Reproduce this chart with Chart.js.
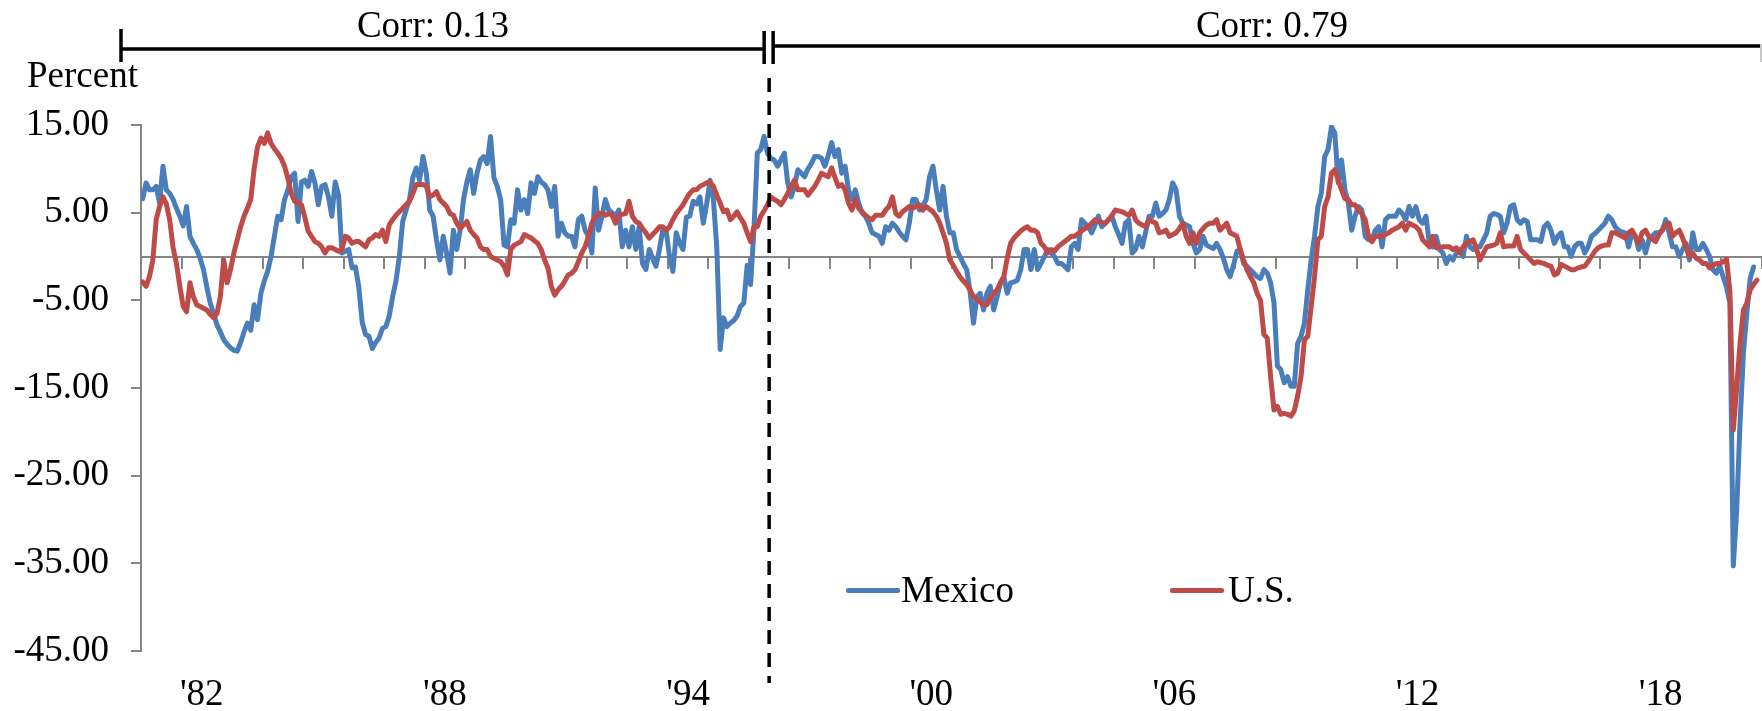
<!DOCTYPE html>
<html>
<head>
<meta charset="utf-8">
<script src="https://cdn.jsdelivr.net/npm/chart.js@4.4.1/dist/chart.umd.min.js"></script>
<style>
html,body{margin:0;padding:0;background:#fff;}
#wrap{position:relative;width:1762px;height:711px;overflow:hidden;background:#fff;}
#c{position:absolute;left:0;top:0;}
.t{position:absolute;font-family:"Liberation Serif","Times New Roman",serif;font-size:37px;line-height:37px;color:#000;white-space:nowrap;}
.sw{position:absolute;height:5px;border-radius:2px;}
</style>
</head>
<body>
<div id="wrap">
  <canvas id="c" width="1762" height="711"></canvas>
  <div class="t" id="ytitle" style="left:27px;top:56px;"></div>
  <div class="t" id="corr1" style="left:433px;top:6px;transform:translateX(-50%);"></div>
  <div class="t" id="corr2" style="left:1272px;top:6px;transform:translateX(-50%);"></div>
  <div class="sw" id="sw0" style="left:846px;top:588px;width:54px;"></div>
  <div class="t" id="lg0" style="left:901px;top:571px;"></div>
  <div class="sw" id="sw1" style="left:1170px;top:588px;width:54px;"></div>
  <div class="t" id="lg1" style="left:1228px;top:571px;"></div>
</div>
<script>
// ---------------- data ----------------
const START_YEAR = 1981;          // first month: Jan 1981
const MONTHS = 480;               // axis spans Jan 1981 - Dec 2020
const tickYears  = [1982, 1988, 1994, 2000, 2006, 2012, 2018];
const tickLabels = ["'82", "'88", "'94", "'00", "'06", "'12", "'18"];
const seriesNames = ["Mexico", "U.S."];
const corrLabels = ["Corr: 0.13", "Corr: 0.79"];
const yTitle = "Percent";
const breakMonth = 186;           // months after Jan 1981 (July 1996)

// Mexico, monthly, percent (one row per year, 1981 ...)
const mexico = [
  6.6, 8.4, 7.6, 7.6, 8.0, 6.1, 10.3, 7.6, 7.2, 6.5, 5.5, 4.6,
  3.5, 5.7, 2.3, 1.5, 0.8, -0.2, -1.5, -3.5, -5.3, -6.5, -7.8, -8.6,
  -9.5, -10.0, -10.4, -10.7, -10.8, -9.8, -8.6, -7.6, -8.4, -5.5, -7.2, -4.2,
  -2.8, -1.7, 0.0, 2.3, 4.6, 4.2, 6.5, 7.6, 9.1, 9.5, 4.0, 8.5,
  8.7, 8.0, 9.7, 8.4, 5.9, 8.0, 8.2, 6.8, 4.6, 8.5, 7.0, 0.4,
  0.6, 0.8, -1.3, -1.2, -3.5, -7.5, -8.9, -9.1, -10.5, -9.8, -9.3, -8.2,
  -8.0, -6.8, -4.6, -2.8, 0.0, 4.0, 5.3, 6.5, 9.0, 10.1, 8.7, 11.4,
  9.5, 5.3, 4.6, 1.9, -0.4, 2.3, 0.4, -1.9, 3.0, 0.8, 3.0, 6.5,
  8.5, 9.9, 7.2, 9.5, 11.0, 11.4, 10.6, 13.7, 9.0, 8.0, 6.5, 1.3,
  1.1, 4.2, 3.8, 7.6, 5.3, 6.5, 4.9, 8.4, 7.2, 9.1, 8.5, 8.2,
  7.6, 5.7, 8.0, 2.3, 3.8, 2.7, 2.3, 2.3, 1.1, 4.2, 4.6, 3.0,
  2.3, 0.4, 7.8, 3.0, 4.6, 6.5, 5.3, 5.0, 4.6, 5.3, 1.1, 3.0,
  1.1, 3.4, 0.8, 3.4, -0.8, -1.5, 0.8, -0.2, -1.1, 0.8, 3.0, 3.0,
  0.0, -1.7, 2.7, 1.5, 0.8, 4.5, 4.6, 6.3, 6.0, 6.8, 3.8, 6.0,
  8.7, 6.5, 1.0, -10.6, -7.0, -8.0, -7.6, -7.3, -6.8, -5.7, -5.3, -1.0,
  -3.2, 3.0, 11.8, 12.2, 13.7, 11.8, 11.2, 11.0, 10.3, 11.0, 11.8, 8.4,
  6.8, 8.0, 9.9, 9.5, 9.1, 10.0, 10.6, 11.4, 11.4, 11.2, 10.3, 11.5,
  13.0, 11.4, 12.2, 9.5, 10.3, 7.6, 6.5, 7.6, 6.1, 5.0, 4.6, 3.8,
  2.7, 2.5, 2.3, 1.5, 3.4, 3.0, 3.8, 3.4, 2.8, 2.3, 1.9, 3.8,
  6.5, 6.5, 5.3, 5.8, 6.5, 9.1, 10.3, 7.6, 5.3, 8.0, 4.6, 2.7,
  2.7, 0.8, 0.0, -0.8, -1.5, -4.0, -7.6, -4.6, -4.2, -6.1, -4.2, -3.4,
  -6.1, -4.6, -3.0, -2.3, -4.2, -3.0, -2.9, -2.7, -1.5, 0.8, 0.8, -1.5,
  0.8, -1.5, -0.8, 0.0, 0.8, 0.4, 0.0, -0.8, -0.8, -1.1, -1.5, 1.1,
  1.5, 0.8, 4.2, 3.8, 3.4, 2.7, 3.6, 4.6, 3.4, 3.8, 4.2, 4.6,
  3.4, 2.5, 1.5, 3.8, 4.2, 0.4, 0.8, 2.3, 1.1, 2.8, 4.6, 4.6,
  6.1, 4.6, 4.9, 5.3, 6.5, 8.4, 7.6, 4.6, 3.8, 3.6, 3.4, 1.5,
  0.4, 0.8, 2.3, 1.3, 1.1, 0.9, 1.5, 0.8, -0.2, -1.5, -2.3, -1.0,
  0.6, 0.8, -0.8, -1.1, -1.5, -1.9, -2.3, -2.5, -1.5, -1.9, -3.0, -5.3,
  -12.5, -12.9, -14.4, -13.7, -14.8, -14.8, -9.9, -9.1, -7.6, -3.8, -0.4, 2.3,
  5.7, 7.2, 11.4, 12.2, 14.8, 14.1, 8.4, 11.0, 7.6, 6.1, 3.0, 4.6,
  5.7, 5.3, 2.3, 1.9, 1.9, 3.0, 3.4, 1.1, 4.2, 4.6, 4.6, 4.6,
  5.3, 4.9, 4.2, 5.7, 4.6, 5.7, 4.2, 3.8, 4.6, 1.5, 1.1, 2.3,
  0.8, 0.4, -0.8, 0.0, -0.4, 0.4, 0.8, 0.0, 2.3, 1.1, 0.8, 1.1,
  1.1, 1.9, 2.7, 4.6, 4.9, 4.8, 4.6, 2.7, 3.8, 5.7, 5.9, 4.2,
  3.8, 4.2, 4.0, 1.9, 1.9, 1.9, 1.7, 3.4, 3.8, 3.0, 1.5, 2.3,
  2.7, 1.1, 1.1, 0.0, 1.1, 1.5, 1.5, 0.4, 1.1, 2.3, 2.6, 3.0,
  3.4, 3.8, 4.6, 4.2, 3.4, 3.0, 2.8, 2.7, 1.1, 2.7, 2.3, 0.8,
  1.9, 0.4, 1.9, 2.3, 2.7, 2.7, 3.0, 4.2, 2.7, 1.1, 1.1, 0.0,
  0.8, 1.5, -0.4, 2.7, 0.8, 0.8, 1.5, 0.8, 0.0, -1.5, -1.9, -1.1,
  -2.3, -3.5, -5.3, -35.3, -29.0, -19.0, -11.0, -6.5, -2.5, -1.2
];

// U.S., monthly, percent (one row per year, 1981 ...)
const us = [
  -2.9, -3.4, -2.3, -0.4, 4.2, 5.7, 6.8, 6.0, 4.2, 1.0, -0.8, -3.4,
  -5.7, -6.3, -3.0, -4.6, -5.5, -5.7, -5.9, -6.1, -6.6, -7.0, -6.5, -4.6,
  -0.4, -3.0, -1.5, 0.4, 1.9, 3.4, 4.6, 5.5, 6.5, 10.0, 12.5, 13.5,
  12.9, 14.1, 12.9, 12.3, 11.8, 11.2, 10.3, 8.9, 7.2, 6.3, 6.1, 5.9,
  4.5, 2.9, 2.3, 1.7, 1.5, 1.1, 0.4, 1.0, 1.0, 0.8, 0.6, 0.8,
  2.3, 2.1, 1.5, 1.7, 1.7, 1.4, 1.1, 1.9, 2.1, 2.5, 2.3, 3.0,
  1.7, 3.6, 4.2, 4.7, 5.1, 5.5, 5.9, 6.3, 7.2, 8.2, 8.2, 8.2,
  8.0, 6.8, 7.0, 7.4, 6.5, 6.1, 5.7, 4.9, 4.7, 3.8, 3.2, 3.6,
  4.0, 3.0, 2.5, 2.1, 1.1, 0.8, 0.8, 0.0, -0.2, -0.4, -0.6, -1.1,
  -2.1, 0.8, 1.3, 1.5, 1.7, 2.5, 2.3, 2.1, 1.8, 1.5, 0.8, -0.4,
  -1.3, -3.4, -4.4, -3.8, -3.4, -2.8, -2.1, -1.9, -1.5, -0.6, 0.4, 1.1,
  2.3, 3.8, 4.5, 4.9, 4.9, 4.7, 4.9, 4.7, 3.8, 4.7, 4.8, 4.9,
  6.3, 4.6, 4.0, 3.8, 3.2, 2.7, 2.1, 2.5, 2.9, 3.4, 3.4, 3.0,
  3.4, 4.2, 4.9, 5.4, 5.9, 6.6, 7.2, 7.6, 7.6, 8.0, 8.2, 8.4,
  8.5, 8.0, 7.0, 6.1, 5.1, 5.3, 4.2, 4.6, 5.1, 4.4, 3.8, 2.7,
  1.7, 3.4, 3.4, 4.6, 5.2, 5.9, 6.8, 6.5, 6.3, 5.9, 6.5, 7.2,
  8.0, 8.7, 7.6, 7.6, 7.6, 7.0, 7.5, 8.0, 8.7, 9.5, 9.3, 9.1,
  10.1, 9.0, 8.0, 8.2, 7.6, 6.1, 5.3, 6.5, 5.5, 5.1, 4.7, 4.4,
  4.2, 4.7, 4.7, 4.7, 5.3, 5.7, 6.8, 4.9, 4.6, 5.1, 5.4, 5.7,
  5.5, 5.7, 5.9, 5.3, 5.7, 5.4, 5.1, 4.6, 3.8, 2.7, 1.5, -0.4,
  -1.0, -1.7, -2.3, -2.8, -3.2, -3.8, -4.6, -4.9, -5.2, -5.5, -5.5, -4.7,
  -4.2, -3.8, -3.0, -2.3, -0.2, 1.5, 2.1, 2.5, 2.9, 3.2, 3.4, 3.0,
  3.0, 2.7, 1.5, 1.1, 0.4, 0.8, 0.6, 1.1, 1.4, 1.7, 2.0, 2.3,
  2.3, 2.6, 2.9, 3.2, 3.4, 3.8, 4.2, 4.0, 3.9, 3.8, 4.2, 4.7,
  5.3, 5.2, 5.1, 4.9, 4.7, 5.3, 4.2, 3.8, 3.6, 3.4, 4.2, 4.0,
  3.8, 2.7, 2.8, 3.0, 2.3, 2.5, 2.7, 3.2, 3.8, 2.3, 1.5, 2.7,
  1.5, 2.7, 3.2, 3.6, 3.8, 3.8, 4.2, 3.0, 3.4, 3.8, 2.7, 2.5,
  2.3, 0.8, -0.4, -1.5, -2.3, -3.0, -4.2, -5.0, -8.9, -9.3, -13.7, -17.5,
  -17.1, -18.0, -17.9, -18.0, -18.2, -17.6, -15.9, -13.7, -9.5, -9.1, -5.7, -2.3,
  1.9, 2.3, 5.7, 6.8, 9.5, 9.9, 8.7, 7.6, 6.6, 6.5, 5.9, 5.9,
  5.3, 4.9, 4.2, 2.3, 1.7, 2.3, 2.3, 2.3, 2.5, 2.7, 3.0, 3.2,
  3.4, 3.8, 3.0, 3.8, 3.6, 3.4, 3.0, 1.9, 1.5, 1.1, 2.3, 1.0,
  1.0, 1.1, 1.1, 1.1, 0.8, 1.0, 0.4, 1.1, 1.5, 1.7, 1.9, 0.8,
  -0.4, 0.4, 1.1, 1.2, 1.3, 1.5, 2.7, 1.1, 1.2, 1.2, 1.2, 2.3,
  0.8, 0.4, 0.0, -0.4, -0.8, -0.6, -0.7, -0.8, -1.0, -1.1, -2.1, -1.9,
  -0.9, -1.1, -1.3, -1.5, -1.5, -1.3, -1.2, -1.1, -0.6, 0.0, 0.6, 1.0,
  1.2, 1.3, 1.3, 2.7, 2.7, 2.5, 2.3, 2.1, 2.7, 3.0, 2.3, 1.5,
  2.7, 3.0, 2.3, 2.0, 1.7, 2.5, 3.0, 3.6, 3.8, 2.3, 2.7, 3.0,
  2.1, 1.1, 0.0, 0.4, -0.2, -0.4, -0.8, -0.8, -1.3, -1.0, -0.8, -0.8,
  -0.6, -0.3, -4.0, -19.8, -15.0, -9.9, -6.1, -5.3, -3.8, -3.2, -2.7
];

// ---------------- styling ----------------
const FONT = '"Liberation Serif", "Times New Roman", serif';
const AXIS_GRAY = '#868686';
const COLORS = ['#4A7EBB', '#BE4B48'];

document.getElementById('ytitle').textContent = yTitle;
document.getElementById('corr1').textContent = corrLabels[0];
document.getElementById('corr2').textContent = corrLabels[1];
document.getElementById('lg0').textContent = seriesNames[0];
document.getElementById('lg1').textContent = seriesNames[1];
document.getElementById('sw0').style.background = COLORS[0];
document.getElementById('sw1').style.background = COLORS[1];

const toPoints = arr => arr.map((v, i) => ({x: i + 0.5, y: v}));

const decor = {
  id: 'decor',
  afterDatasetsDraw(chart) {
    const {ctx, chartArea, scales} = chart;
    const xb = scales.x.getPixelForValue(breakMonth);
    ctx.save();
    ctx.strokeStyle = '#000';
    ctx.lineWidth = 3.5;
    ctx.lineCap = 'butt';
    ctx.setLineDash([14, 9]);
    ctx.beginPath();
    ctx.moveTo(xb, 78);
    ctx.lineTo(xb, 683);
    ctx.stroke();
    ctx.setLineDash([]);
    const xl = chartArea.left - 20;
    ctx.beginPath();
    ctx.moveTo(xl, 49); ctx.lineTo(xb - 5, 49);
    ctx.moveTo(xl, 29); ctx.lineTo(xl, 62);
    ctx.moveTo(xb - 5, 31); ctx.lineTo(xb - 5, 64);
    ctx.moveTo(xb + 4, 31); ctx.lineTo(xb + 4, 64);
    ctx.moveTo(xb + 4, 46); ctx.lineTo(chart.width, 46);
    ctx.stroke();
    ctx.strokeStyle = '#c8c8c8';
    ctx.lineWidth = 2;
    ctx.beginPath();
    ctx.moveTo(chart.width - 1, 44); ctx.lineTo(chart.width - 1, 62);
    ctx.stroke();
    ctx.restore();
  }
};

new Chart(document.getElementById('c'), {
  type: 'line',
  data: {
    datasets: [
      {label: seriesNames[0], data: toPoints(mexico), borderColor: COLORS[0], order: 1,
       xAxisID: 'x', yAxisID: 'y'},
      {label: seriesNames[1], data: toPoints(us), borderColor: COLORS[1], order: 0,
       xAxisID: 'x', yAxisID: 'y'}
    ]
  },
  options: {
    responsive: false,
    animation: false,
    devicePixelRatio: 1,
    layout: {padding: {top: 125, left: 0, right: 0, bottom: 0}},
    elements: {
      line: {borderWidth: 5, tension: 0, borderJoinStyle: 'round', borderCapStyle: 'round', fill: false},
      point: {radius: 0, hoverRadius: 0}
    },
    plugins: {legend: {display: false}, tooltip: {enabled: false}},
    scales: {
      x: {
        type: 'linear', min: 0, max: MONTHS, position: {y: 0},
        ticks: {display: false, stepSize: 12},
        grid: {display: true, drawOnChartArea: false, drawTicks: true, tickLength: 11, color: AXIS_GRAY, lineWidth: 2},
        border: {display: true, color: AXIS_GRAY, width: 2}
      },
      xLabels: {
        type: 'linear', min: 0, max: MONTHS, position: 'bottom',
        afterBuildTicks: a => { a.ticks = tickYears.map(y => ({value: (y - START_YEAR) * 12 + 6})); },
        afterFit: s => { s.height = 60; },
        ticks: {autoSkip: false, maxRotation: 0, minRotation: 0, padding: 22, color: '#000',
                font: {family: FONT, size: 37}, callback: (v, i) => tickLabels[i]},
        grid: {display: false, drawTicks: false},
        border: {display: false}
      },
      y: {
        type: 'linear', min: -45, max: 15, position: 'left',
        afterFit: s => { s.width = 141; },
        ticks: {stepSize: 10, padding: 22, color: '#000', font: {family: FONT, size: 37},
                callback: v => Number(v).toFixed(2)},
        grid: {drawOnChartArea: false, drawTicks: true, tickLength: 10, color: AXIS_GRAY, lineWidth: 2},
        border: {color: AXIS_GRAY, width: 2}
      }
    }
  },
  plugins: [decor]
});
</script>
</body>
</html>
